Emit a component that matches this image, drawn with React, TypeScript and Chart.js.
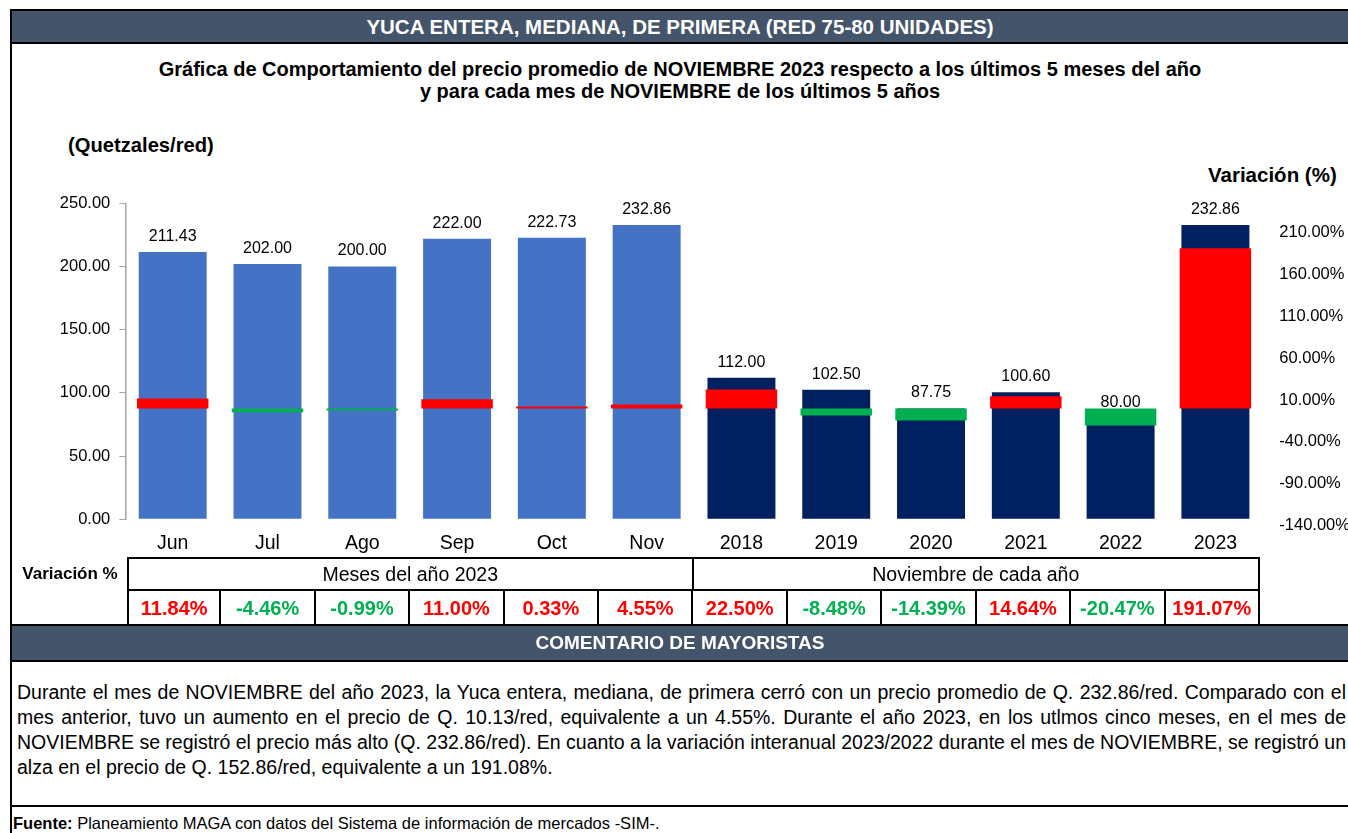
import React, { useEffect, useRef } from "react";
import { Chart, registerables } from "chart.js";

Chart.register(...registerables);

const categories = ["Jun", "Jul", "Ago", "Sep", "Oct", "Nov", "2018", "2019", "2020", "2021", "2022", "2023"];
const prices = [211.43, 202.0, 200.0, 222.0, 222.73, 232.86, 112.0, 102.5, 87.75, 100.6, 80.0, 232.86];
const variations = [11.84, -4.46, -0.99, 11.0, 0.33, 4.55, 22.5, -8.48, -14.39, 14.64, -20.47, 191.07];
const monthCount = 6;
const priceTicks = [0, 50, 100, 150, 200, 250];
const variationTicks = [-140, -90, -40, 10, 60, 110, 160, 210];
const groupLabels = ["Meses del año 2023", "Noviembre de cada año"];
const commentLines = [
  "Durante el mes de NOVIEMBRE del año 2023, la Yuca entera, mediana, de primera cerró con un precio promedio de Q. 232.86/red. Comparado con el",
  "mes anterior, tuvo un aumento en el precio de Q. 10.13/red, equivalente a un 4.55%. Durante el año 2023, en los utlmos cinco meses, en el mes de",
  "NOVIEMBRE se registró el precio más alto (Q. 232.86/red). En cuanto a la variación interanual 2023/2022 durante el mes de NOVIEMBRE, se registró un",
  "alza en el precio de Q. 152.86/red, equivalente a un 191.08%.",
];

const ARIAL = "'Liberation Sans', Arial, sans-serif";
const SLATE = "#44546A";

const labelPlugin = {
  id: "valueLabels",
  afterDatasetsDraw(chart: any) {
    const meta = chart.getDatasetMeta(1);
    const ctx = chart.ctx;
    ctx.save();
    ctx.font = `16px ${ARIAL}`;
    ctx.fillStyle = "#000";
    ctx.textAlign = "center";
    ctx.textBaseline = "middle";
    meta.data.forEach((bar: any, i: number) => {
      ctx.fillText(prices[i].toFixed(2), bar.x, bar.y - 15.5);
    });
    ctx.restore();
  },
};

function PriceChart() {
  const ref = useRef<HTMLCanvasElement | null>(null);
  useEffect(() => {
    if (!ref.current) return;
    const chart = new Chart(ref.current, {
      type: "bar",
      data: {
        labels: categories,
        datasets: [
          {
            label: "Variación",
            data: variations,
            yAxisID: "y2",
            backgroundColor: variations.map((v) => (v >= 0 ? "#FF0000" : "#00B050")),
            barPercentage: 0.754,
            categoryPercentage: 1,
            grouped: false,
            minBarLength: 2,
            borderWidth: 0,
          } as any,
          {
            label: "Precio",
            data: prices,
            yAxisID: "y",
            backgroundColor: prices.map((_, i) => (i < monthCount ? "#4472C4" : "#002060")),
            barPercentage: 0.717,
            categoryPercentage: 1,
            grouped: false,
            borderWidth: 0,
          } as any,
        ],
      },
      options: {
        animation: false,
        responsive: false,
        maintainAspectRatio: false,
        layout: { padding: { top: 13.3, left: 0, right: 0, bottom: 0 } },
        plugins: { legend: { display: false }, tooltip: { enabled: false } },
        scales: {
          x: {
            grid: { display: false },
            border: { display: false },
            ticks: { font: { size: 19.5, family: ARIAL }, color: "#000", padding: 5 },
            afterFit: (s: any) => {
              s.height = 38.7;
              s.paddingLeft = 0;
              s.paddingRight = 0;
            },
          },
          y: {
            position: "left",
            min: 0,
            max: 250,
            afterBuildTicks: (s: any) => {
              s.ticks = priceTicks.map((v) => ({ value: v }));
            },
            ticks: {
              autoSkip: false,
              callback: (v: any) => Number(v).toFixed(2),
              font: { size: 16.5, family: ARIAL },
              color: "#000",
              padding: 9,
            },
            grid: { drawOnChartArea: false, tickLength: 6, color: "#A6A6A6" },
            border: { color: "#A6A6A6", width: 1.5 },
            afterFit: (s: any) => {
              s.width = 115.3;
              s.paddingTop = 0;
              s.paddingBottom = 0;
            },
          },
          y2: {
            position: "right",
            min: -132.3,
            max: 244.7,
            afterBuildTicks: (s: any) => {
              s.ticks = variationTicks.map((v) => ({ value: v }));
            },
            grid: { display: false, drawTicks: false },
            border: { display: false },
            ticks: {
              autoSkip: false,
              callback: (v: any) => Number(v).toFixed(2) + "%",
              font: { size: 16.5, family: ARIAL },
              color: "#000",
              padding: 16.5,
            },
            afterFit: (s: any) => {
              s.width = 85.2;
              s.paddingTop = 0;
              s.paddingBottom = 0;
            },
          },
        },
      } as any,
      plugins: [labelPlugin],
    });
    return () => chart.destroy();
  }, []);
  return <canvas ref={ref} width={1338} height={368} style={{ position: "absolute", left: 10, top: 190, width: 1338, height: 368 }} />;
}

const abs = (s: React.CSSProperties): React.CSSProperties => ({ position: "absolute", ...s });

export default function App() {
  const colW = (1260 - 127) / categories.length;
  return (
    <div style={abs({ left: 0, top: 0, width: 1348, height: 833, overflow: "hidden", background: "#fff", fontFamily: ARIAL, color: "#000" })}>
      {/* frame */}
      <div style={abs({ left: 10, top: 9, width: 1340, height: 830, borderLeft: "2px solid #000", borderTop: "2px solid #000" })} />
      {/* title bar */}
      <div
        style={abs({
          left: 12,
          top: 11,
          width: 1336,
          height: 31,
          background: SLATE,
          borderBottom: "2px solid #000",
          color: "#fff",
          fontWeight: "bold",
          fontSize: 20.5,
          lineHeight: "32px",
          textAlign: "center",
          whiteSpace: "nowrap",
        })}
      >
        YUCA ENTERA, MEDIANA, DE PRIMERA (RED 75-80 UNIDADES)
      </div>
      {/* subtitle */}
      <div style={abs({ left: 12, top: 58, width: 1336, textAlign: "center", fontWeight: "bold", fontSize: 20, lineHeight: "22px" })}>
        Gráfica de Comportamiento del precio promedio de NOVIEMBRE 2023 respecto a los últimos 5 meses del año
        <br />y para cada mes de NOVIEMBRE de los últimos 5 años
      </div>
      <div style={abs({ left: 68, top: 133, fontWeight: "bold", fontSize: 20.2, lineHeight: "24px", whiteSpace: "nowrap" })}>(Quetzales/red)</div>
      <div style={abs({ left: 1208, top: 163, fontWeight: "bold", fontSize: 20.5, lineHeight: "24px", whiteSpace: "nowrap" })}>Variación (%)</div>

      <PriceChart />

      {/* variation table */}
      <div style={abs({ left: 14, top: 557, width: 112, height: 34, lineHeight: "34px", textAlign: "center", fontWeight: "bold", fontSize: 17 })}>
        Variación %
      </div>
      {groupLabels.map((g, gi) => (
        <div
          key={g}
          style={abs({
            left: 127 + gi * colW * monthCount,
            top: 557,
            width: colW * monthCount,
            height: 34,
            boxSizing: "border-box",
            border: "2px solid #000",
            borderLeft: gi === 0 ? "2px solid #000" : "none",
            textAlign: "center",
            lineHeight: "30px",
            fontSize: 19.5,
            whiteSpace: "nowrap",
          })}
        >
          {g}
        </div>
      ))}
      {variations.map((v, i) => (
        <div
          key={i}
          style={abs({
            left: 127 + i * colW,
            top: 591,
            width: colW,
            height: 34,
            boxSizing: "border-box",
            borderRight: "2px solid #000",
            borderLeft: i === 0 ? "2px solid #000" : "none",
            textAlign: "center",
            lineHeight: "34px",
            fontWeight: "bold",
            fontSize: 20,
            whiteSpace: "nowrap",
            color: v >= 0 ? "#FF0000" : "#00B050",
          })}
        >
          {v.toFixed(2)}%
        </div>
      ))}
      {/* comment bar */}
      <div
        style={abs({
          left: 12,
          top: 624,
          width: 1336,
          height: 34,
          background: SLATE,
          borderTop: "2px solid #000",
          borderBottom: "2px solid #000",
          color: "#fff",
          fontWeight: "bold",
          fontSize: 19,
          lineHeight: "34px",
          textAlign: "center",
          whiteSpace: "nowrap",
        })}
      >
        COMENTARIO DE MAYORISTAS
      </div>
      <div style={abs({ left: 17, top: 680, width: 1329, fontSize: 19.5, lineHeight: "25px" })}>
        {commentLines.map((line, i) => (
          <div
            key={i}
            style={{
              whiteSpace: i < commentLines.length - 1 ? "normal" : "nowrap",
              textAlign: i < commentLines.length - 1 ? "justify" : "left",
              textAlignLast: i < commentLines.length - 1 ? "justify" : "left",
              wordSpacing: i < commentLines.length - 1 ? -2 : 0,
              height: 25,
              overflow: "visible",
            }}
          >
            {line}
          </div>
        ))}
      </div>
      <div style={abs({ left: 12, top: 805, width: 1336, height: 0, borderTop: "2px solid #000" })} />
      <div style={abs({ left: 13, top: 813, fontSize: 16.5, lineHeight: "20px", whiteSpace: "nowrap" })}>
        <b>Fuente:</b> Planeamiento MAGA con datos del Sistema de información de mercados -SIM-.
      </div>
    </div>
  );
}
